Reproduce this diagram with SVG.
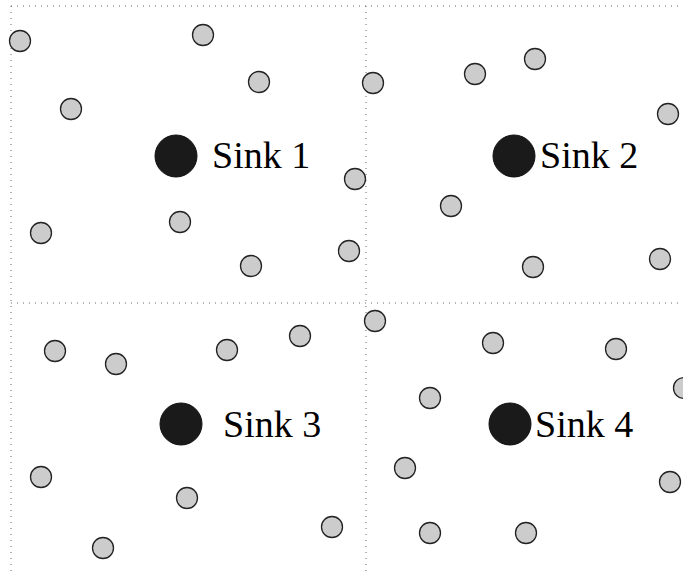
<svg xmlns="http://www.w3.org/2000/svg" width="683" height="573" viewBox="0 0 683 573">
<style>
.grid{stroke:#666;stroke-width:1;stroke-dasharray:1 5;fill:none}
.n{fill:#cccccc;stroke:#222;stroke-width:1.3}
.s{fill:#1a1a1a;stroke:#111;stroke-width:1}
.t{font-family:"Liberation Serif","Times New Roman",serif;font-size:38px;fill:#000}
</style>
<rect width="683" height="573" fill="#fff"/>
<g id="grid">
<line class="grid" x1="11" y1="6" x2="683" y2="6"/>
<line class="grid" x1="11" y1="6" x2="11" y2="573"/>
<line class="grid" x1="366" y1="6" x2="366" y2="573"/>
<line class="grid" x1="11" y1="303" x2="683" y2="303"/>
</g>
<g id="sink1"><circle class="s" cx="176" cy="156" r="21"/><text class="t" x="212" y="168">Sink 1</text></g>
<g id="sink2"><circle class="s" cx="514" cy="156" r="21"/><text class="t" x="540" y="168">Sink 2</text></g>
<g id="sink3"><circle class="s" cx="181" cy="424" r="21"/><text class="t" x="223" y="437">Sink 3</text></g>
<g id="sink4"><circle class="s" cx="510" cy="424" r="21"/><text class="t" x="535" y="437">Sink 4</text></g>
<g id="nodes">
<circle class="n" cx="20" cy="41" r="10.5"/>
<circle class="n" cx="203" cy="35" r="10.5"/>
<circle class="n" cx="71" cy="109" r="10.5"/>
<circle class="n" cx="259" cy="82" r="10.5"/>
<circle class="n" cx="373" cy="83" r="10.5"/>
<circle class="n" cx="475" cy="74" r="10.5"/>
<circle class="n" cx="535" cy="59" r="10.5"/>
<circle class="n" cx="668" cy="114" r="10.5"/>
<circle class="n" cx="355" cy="179" r="10.5"/>
<circle class="n" cx="451" cy="206" r="10.5"/>
<circle class="n" cx="41" cy="233" r="10.5"/>
<circle class="n" cx="180" cy="222" r="10.5"/>
<circle class="n" cx="251" cy="266" r="10.5"/>
<circle class="n" cx="349" cy="251" r="10.5"/>
<circle class="n" cx="533" cy="267" r="10.5"/>
<circle class="n" cx="660" cy="259" r="10.5"/>
<circle class="n" cx="375" cy="321" r="10.5"/>
<circle class="n" cx="55" cy="351" r="10.5"/>
<circle class="n" cx="116" cy="364" r="10.5"/>
<circle class="n" cx="227" cy="350" r="10.5"/>
<circle class="n" cx="300" cy="336" r="10.5"/>
<circle class="n" cx="493" cy="343" r="10.5"/>
<circle class="n" cx="616" cy="349" r="10.5"/>
<circle class="n" cx="430" cy="398" r="10.5"/>
<circle class="n" cx="684" cy="388" r="10.5"/>
<circle class="n" cx="405" cy="468" r="10.5"/>
<circle class="n" cx="670" cy="482" r="10.5"/>
<circle class="n" cx="41" cy="477" r="10.5"/>
<circle class="n" cx="187" cy="498" r="10.5"/>
<circle class="n" cx="332" cy="527" r="10.5"/>
<circle class="n" cx="103" cy="548" r="10.5"/>
<circle class="n" cx="430" cy="533" r="10.5"/>
<circle class="n" cx="526" cy="533" r="10.5"/>
</g>
</svg>
